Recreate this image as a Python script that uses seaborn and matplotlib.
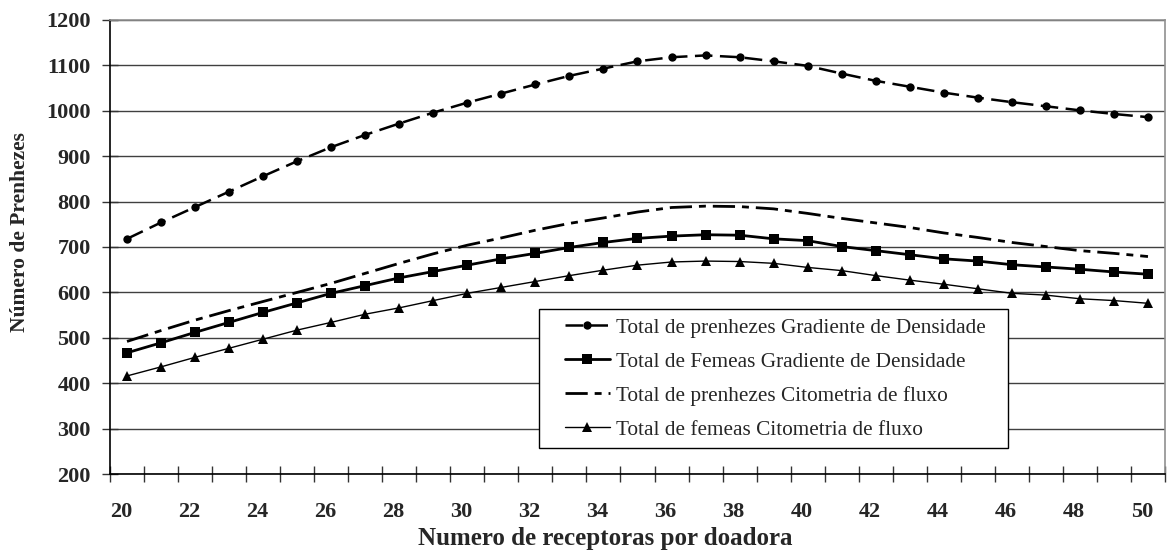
import matplotlib
matplotlib.use("Agg")
import matplotlib.pyplot as plt
from matplotlib.transforms import ScaledTranslation
from matplotlib.ticker import FixedLocator
from matplotlib.patches import Rectangle
import seaborn as sns
import pandas as pd

# Receptoras por doadora
receptoras = list(range(20, 51))

prenhezes_gradiente = [718, 754, 788, 822, 856, 889, 920, 947, 972, 996,
                       1018, 1038, 1058, 1077, 1093, 1109, 1118, 1122, 1118, 1109,
                       1099, 1082, 1066, 1053, 1040, 1029, 1019, 1010, 1001, 993, 986]
femeas_gradiente = [467, 489, 512, 534, 556, 577, 598, 615, 632, 646,
                    660, 674, 686, 699, 710, 719, 724, 727, 726, 718,
                    714, 701, 692, 683, 674, 669, 661, 656, 651, 645, 640]
prenhezes_citometria = [492, 516, 539, 560, 580, 600, 620, 642, 664, 685,
                        704, 720, 737, 752, 764, 777, 787, 790, 789, 784,
                        774, 763, 753, 743, 731, 721, 710, 701, 692, 686, 679]
femeas_citometria = [416, 436, 457, 477, 497, 517, 534, 552, 566, 582,
                     598, 611, 624, 637, 649, 660, 667, 669, 668, 664,
                     655, 648, 637, 627, 618, 608, 598, 594, 586, 582, 576]

labels = ["Total de prenhezes Gradiente de Densidade",
          "Total de Femeas Gradiente de Densidade",
          "Total de prenhezes Citometria de fluxo",
          "Total de femeas Citometria de fluxo"]

df = pd.DataFrame({
    "x": receptoras,
    labels[0]: prenhezes_gradiente,
    labels[1]: femeas_gradiente,
    labels[2]: prenhezes_citometria,
    labels[3]: femeas_citometria,
})

sns.set_style("white")
plt.rcParams["font.family"] = ["Liberation Serif", "DejaVu Serif"]

W, H = 1176, 554
fig = plt.figure(figsize=(W / 100, H / 100), dpi=100)
L, R, T, B = 110, 1165, 20, 474
ax = fig.add_axes([L / W, 1 - B / H, (R - L) / W, (B - T) / H])

styles = [
    dict(marker="o", markersize=6.0, linewidth=1.8, linestyle=(0, (7, 3))),
    dict(marker="s", markersize=7.2, linewidth=2.0, linestyle="-"),
    dict(marker=None, linewidth=2.0, linestyle=(0, (8, 2.5, 2.5, 2.5))),
    dict(marker="^", markersize=7.5, linewidth=1.0, linestyle="-"),
]

for lab, st in zip(labels, styles):
    sns.lineplot(data=df, x="x", y=lab, ax=ax, color="black", label=lab,
                 markeredgewidth=0, **st)

# Axes limits and grid
ax.set_xlim(19.5, 50.5)
ax.set_ylim(200, 1200)
ax.grid(axis="y", color="#404040", linewidth=1.0)
ax.grid(axis="x", visible=False)
ax.set_axisbelow(True)

for side in ["top", "right"]:
    ax.spines[side].set_color("#909090")
    ax.spines[side].set_linewidth(1.2)
for side in ["left", "bottom"]:
    ax.spines[side].set_color("black")
    ax.spines[side].set_linewidth(1.2)

# Category boundary ticks on x, labels every other category
ax.xaxis.set_major_locator(FixedLocator(receptoras[::2]))
ax.xaxis.set_minor_locator(FixedLocator([v - 0.5 for v in receptoras] + [receptoras[-1] + 0.5]))
ax.tick_params(which="both", bottom=True, left=True, top=False, right=False)
ax.tick_params(axis="x", which="major", length=0, pad=20)
ax.tick_params(axis="x", which="minor", direction="inout", length=11, width=1.0, color="#333333")
ax.tick_params(axis="y", which="major", direction="inout", length=11.5, width=1.0,
               color="#333333", pad=8)

tick_font = dict(fontsize=16, fontweight="bold")
ax.set_xticklabels([str(v) for v in receptoras[::2]], **tick_font)
ax.set_yticks(range(200, 1201, 100))
ax.set_yticklabels([str(v) for v in range(200, 1201, 100)], **tick_font)
shift = ScaledTranslation(-6 / 100, 0, fig.dpi_scale_trans)
for t in ax.get_xticklabels():
    t.set_transform(t.get_transform() + shift)

ax.set_xlabel("Numero de receptoras por doadora", fontsize=18, fontweight="bold")
ax.set_ylabel("Número de Prenhezes", fontsize=15.5, fontweight="bold")
ax.xaxis.set_label_coords((605 - L) / (R - L), -(539 - B) / (B - T))
ax.yaxis.set_label_coords((20 - L) / (R - L), (B - 232) / (B - T))
ax.xaxis.label.set_va("center")
ax.yaxis.label.set_va("center")

# Legend: white box with black border, entries placed inside it
box = Rectangle((539 / W, 1 - 448 / H), (1008 - 539) / W, (448 - 309) / H,
                transform=fig.transFigure, facecolor="white", edgecolor="black",
                linewidth=1.0, zorder=4.9)
ax.add_patch(box)
leg = ax.legend(loc="upper left",
                bbox_to_anchor=(565 / W, 1 - 318 / H),
                bbox_transform=fig.transFigure,
                fontsize=15.3, frameon=False, borderpad=0,
                handlelength=2.1, handletextpad=0.3, labelspacing=0.66,
                borderaxespad=0)
leg.set_zorder(5)

fig.savefig("out.png", dpi=100, facecolor="white")
